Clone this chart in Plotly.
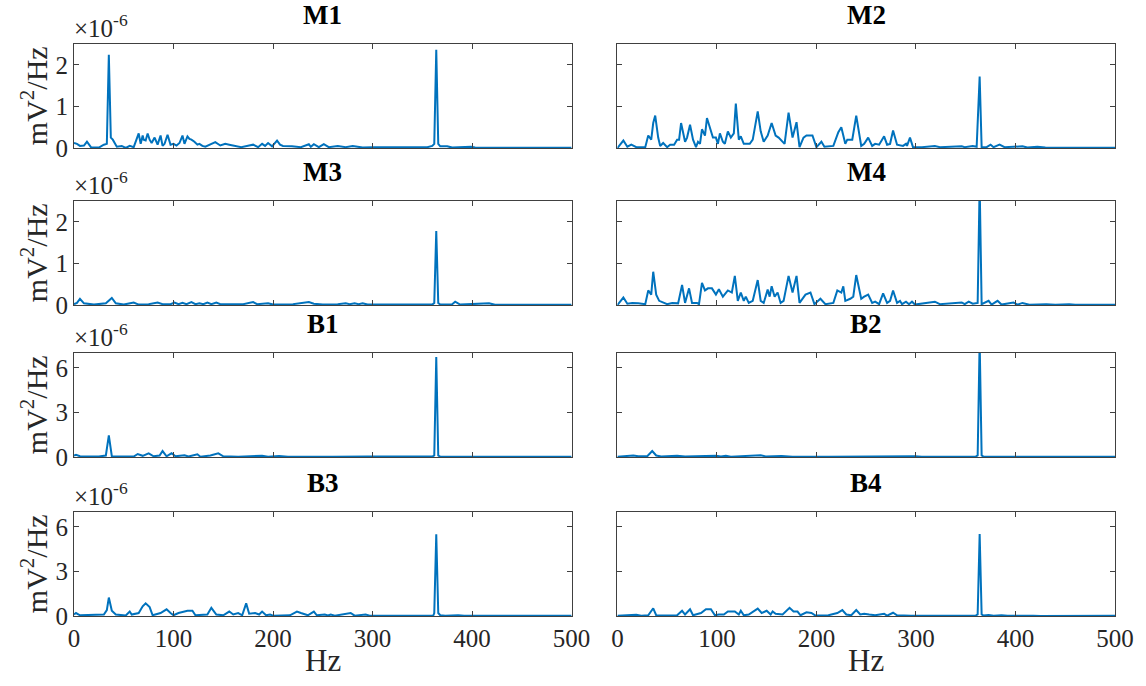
import plotly.graph_objects as go

# values in units of 1e-6 mV^2/Hz
panel_titles = ["M1", "M2", "M3", "M4", "B1", "B2", "B3", "B4"]
x_ticks = [0, 100, 200, 300, 400, 500]
m_yticks = [0, 1, 2]
b_yticks = [0, 3, 6]

m1_hz = [0, 3, 6, 10, 13, 17, 25, 30, 33, 35, 37, 39, 43, 48, 52, 56, 60, 65, 67, 69, 70, 72, 74, 76, 78, 81, 84, 87, 89, 91, 94, 97, 100, 103, 106, 109, 111, 114, 116, 118, 121, 124, 126, 129, 132, 137, 142, 147, 152, 156, 161, 168, 176, 180, 185, 189, 192, 195, 199, 204, 207, 210, 219, 228, 236, 238, 241, 246, 251, 256, 265, 273, 280, 290, 300, 320, 340, 355, 360, 362, 364, 366, 368, 375, 380, 399, 403, 420, 450, 500]
m1_val = [0.12, 0.1, 0.05, 0.06, 0.15, 0.02, 0.01, 0.08, 0.1, 2.24, 0.25, 0.2, 0.03, 0.05, 0.0, 0.05, 0.02, 0.35, 0.1, 0.3, 0.2, 0.18, 0.35, 0.2, 0.12, 0.25, 0.08, 0.3, 0.05, 0.1, 0.32, 0.08, 0.1, 0.06, 0.12, 0.3, 0.1, 0.28, 0.22, 0.2, 0.15, 0.08, 0.1, 0.05, 0.03, 0.08, 0.14, 0.06, 0.1, 0.08, 0.05, 0.02, 0.06, 0.08, 0.02, 0.1, 0.05, 0.12, 0.04, 0.18, 0.08, 0.05, 0.04, 0.02, 0.09, 0.03, 0.09, 0.02, 0.09, 0.02, 0.05, 0.02, 0.05, 0.01, 0.02, 0.02, 0.01, 0.02, 0.05, 0.1, 2.36, 0.1, 0.04, 0.04, 0.01, 0.03, 0.01, 0.01, 0.005, 0.005]

m2_hz = [0, 6, 10, 14, 19, 28, 31, 34, 36, 38, 41, 43, 46, 50, 53, 57, 60, 62, 64, 68, 70, 73, 76, 79, 81, 83, 85, 88, 90, 93, 96, 99, 101, 103, 106, 108, 111, 114, 117, 119, 122, 124, 127, 133, 136, 141, 144, 147, 151, 155, 159, 162, 168, 172, 176, 180, 183, 187, 190, 196, 200, 205, 208, 217, 222, 225, 229, 231, 233, 236, 240, 245, 248, 252, 256, 259, 263, 268, 271, 274, 277, 281, 287, 290, 291, 294, 297, 306, 319, 324, 346, 349, 357, 361, 364, 366, 371, 375, 378, 384, 389, 398, 407, 412, 422, 430, 500]
m2_val = [0.0, 0.18, 0.03, 0.08, 0.02, 0.02, 0.3, 0.2, 0.6, 0.78, 0.25, 0.05, 0.12, 0.02, 0.08, 0.08, 0.2, 0.2, 0.6, 0.15, 0.25, 0.56, 0.2, 0.02, 0.15, 0.1, 0.45, 0.3, 0.72, 0.5, 0.25, 0.25, 0.1, 0.35, 0.15, 0.1, 0.4, 0.25, 0.35, 1.07, 0.2, 0.28, 0.1, 0.1, 0.2, 0.88, 0.4, 0.15, 0.3, 0.6, 0.3, 0.25, 0.1, 0.85, 0.25, 0.62, 0.02, 0.25, 0.3, 0.3, 0.02, 0.15, 0.03, 0.05, 0.38, 0.5, 0.1, 0.2, 0.2, 0.2, 0.78, 0.05, 0.1, 0.25, 0.05, 0.1, 0.08, 0.28, 0.08, 0.1, 0.42, 0.08, 0.05, 0.1, 0.05, 0.25, 0.02, 0.02, 0.05, 0.02, 0.04, 0.02, 0.05, 0.03, 1.72, 0.02, 0.02, 0.08, 0.02, 0.08, 0.02, 0.03, 0.04, 0.01, 0.03, 0.01, 0.005]

m3_hz = [0, 3, 6, 10, 20, 32, 38, 42, 50, 60, 65, 75, 84, 89, 97, 101, 105, 109, 113, 118, 122, 126, 130, 134, 138, 143, 147, 160, 170, 180, 184, 195, 200, 220, 236, 241, 250, 265, 273, 277, 282, 286, 290, 295, 330, 360, 362, 364, 366, 368, 380, 383, 388, 417, 423, 500]
m3_val = [0.02, 0.05, 0.15, 0.04, 0.01, 0.04, 0.17, 0.04, 0.01, 0.06, 0.01, 0.02, 0.06, 0.02, 0.02, 0.06, 0.02, 0.05, 0.02, 0.07, 0.02, 0.04, 0.02, 0.06, 0.02, 0.06, 0.02, 0.01, 0.02, 0.07, 0.02, 0.04, 0.01, 0.02, 0.07, 0.03, 0.01, 0.02, 0.04, 0.02, 0.04, 0.02, 0.04, 0.01, 0.01, 0.01, 0.05, 1.78, 0.05, 0.01, 0.02, 0.08, 0.01, 0.04, 0.005, 0.005]

m4_hz = [0, 6, 10, 15, 21, 28, 31, 34, 36, 39, 42, 46, 50, 55, 61, 65, 68, 72, 75, 80, 82, 85, 88, 91, 95, 99, 102, 106, 111, 115, 118, 121, 124, 127, 129, 132, 136, 141, 144, 147, 151, 153, 155, 158, 161, 164, 167, 172, 176, 180, 183, 189, 194, 198, 204, 209, 217, 221, 225, 227, 229, 234, 237, 240, 245, 248, 252, 256, 259, 263, 267, 271, 274, 277, 281, 284, 286, 290, 293, 296, 299, 319, 324, 346, 349, 353, 357, 362, 364, 366, 373, 376, 382, 386, 398, 402, 407, 414, 431, 440, 454, 460, 500]
m4_val = [0.0, 0.18, 0.03, 0.05, 0.04, 0.02, 0.35, 0.25, 0.8, 0.25, 0.1, 0.06, 0.02, 0.05, 0.04, 0.48, 0.05, 0.4, 0.05, 0.05, 0.02, 0.53, 0.35, 0.4, 0.4, 0.25, 0.38, 0.2, 0.35, 0.3, 0.7, 0.1, 0.3, 0.1, 0.2, 0.05, 0.1, 0.6, 0.1, 0.05, 0.37, 0.2, 0.45, 0.2, 0.3, 0.05, 0.1, 0.7, 0.3, 0.7, 0.05, 0.25, 0.3, 0.02, 0.15, 0.02, 0.05, 0.35, 0.3, 0.45, 0.1, 0.15, 0.2, 0.72, 0.15, 0.2, 0.25, 0.05, 0.08, 0.02, 0.28, 0.05, 0.1, 0.35, 0.05, 0.1, 0.02, 0.08, 0.02, 0.08, 0.01, 0.08, 0.02, 0.06, 0.02, 0.08, 0.03, 0.05, 2.9, 0.02, 0.1, 0.01, 0.1, 0.01, 0.06, 0.01, 0.05, 0.005, 0.02, 0.005, 0.02, 0.005, 0.005]

b1_hz = [0, 2, 6, 15, 25, 32, 35, 38, 50, 60, 64, 69, 75, 80, 86, 89, 93, 98, 102, 111, 115, 124, 127, 137, 145, 150, 165, 189, 195, 206, 215, 252, 260, 295, 330, 360, 362, 364, 366, 368, 400, 500]
b1_val = [0.1, 0.15, 0.05, 0.05, 0.03, 0.1, 1.45, 0.05, 0.05, 0.03, 0.2, 0.08, 0.25, 0.05, 0.1, 0.4, 0.05, 0.25, 0.05, 0.12, 0.03, 0.18, 0.02, 0.1, 0.25, 0.05, 0.02, 0.08, 0.02, 0.06, 0.02, 0.05, 0.02, 0.03, 0.02, 0.03, 0.1, 6.73, 0.1, 0.02, 0.01, 0.01]

b2_hz = [0, 16, 21, 30, 35, 39, 44, 60, 68, 82, 99, 104, 109, 114, 144, 149, 165, 176, 201, 212, 299, 306, 360, 362, 364, 366, 368, 400, 500]
b2_val = [0.02, 0.1, 0.05, 0.05, 0.4, 0.1, 0.03, 0.08, 0.03, 0.05, 0.08, 0.03, 0.08, 0.02, 0.12, 0.04, 0.06, 0.02, 0.05, 0.02, 0.05, 0.02, 0.03, 0.1, 7.8, 0.1, 0.02, 0.01, 0.01]

b3_hz = [0, 2, 6, 30, 33, 35, 38, 42, 52, 56, 58, 65, 69, 72, 76, 79, 87, 93, 97, 100, 105, 110, 114, 119, 122, 134, 138, 143, 150, 156, 160, 165, 169, 173, 176, 182, 186, 189, 193, 197, 200, 217, 224, 228, 231, 235, 241, 244, 252, 255, 258, 262, 278, 282, 293, 297, 333, 361, 362, 364, 366, 368, 373, 386, 392, 500]
b3_val = [0.1, 0.2, 0.05, 0.1, 0.4, 1.24, 0.35, 0.1, 0.03, 0.3, 0.1, 0.2, 0.65, 0.85, 0.6, 0.05, 0.2, 0.45, 0.2, 0.05, 0.2, 0.3, 0.35, 0.35, 0.05, 0.1, 0.55, 0.1, 0.05, 0.3, 0.1, 0.2, 0.05, 0.85, 0.15, 0.2, 0.1, 0.3, 0.05, 0.1, 0.02, 0.05, 0.3, 0.2, 0.15, 0.05, 0.3, 0.05, 0.1, 0.03, 0.1, 0.02, 0.2, 0.02, 0.1, 0.02, 0.02, 0.03, 0.2, 5.5, 0.2, 0.05, 0.02, 0.05, 0.01, 0.01]

b4_hz = [0, 19, 24, 31, 36, 39, 53, 60, 65, 68, 73, 76, 84, 89, 94, 98, 102, 107, 111, 118, 122, 124, 127, 132, 141, 145, 150, 154, 156, 159, 166, 173, 177, 181, 184, 190, 195, 199, 212, 221, 226, 230, 235, 240, 244, 248, 253, 259, 268, 271, 277, 281, 295, 320, 360, 362, 364, 366, 368, 373, 378, 386, 392, 418, 425, 500]
b4_val = [0.02, 0.08, 0.02, 0.05, 0.52, 0.05, 0.03, 0.05, 0.35, 0.1, 0.45, 0.05, 0.2, 0.45, 0.45, 0.05, 0.1, 0.1, 0.3, 0.3, 0.1, 0.35, 0.05, 0.1, 0.5, 0.2, 0.35, 0.1, 0.3, 0.15, 0.1, 0.55, 0.3, 0.3, 0.05, 0.25, 0.2, 0.03, 0.05, 0.2, 0.4, 0.1, 0.05, 0.4, 0.1, 0.15, 0.1, 0.05, 0.15, 0.02, 0.22, 0.05, 0.02, 0.02, 0.03, 0.1, 5.52, 0.1, 0.03, 0.06, 0.01, 0.05, 0.01, 0.02, 0.005, 0.01]

series = [(m1_hz, m1_val), (m2_hz, m2_val), (m3_hz, m3_val), (m4_hz, m4_val),
          (b1_hz, b1_val), (b2_hz, b2_val), (b3_hz, b3_val), (b4_hz, b4_val)]

W, H = 1146, 686
ML, MR, MT, MB = 74, 26, 44, 70
pw, ph = W - ML - MR, H - MT - MB
x_doms = [[0.0, (574 - ML) / pw], [(620 - ML) / pw, 1.0]]
row_px = [(44, 148), (201, 305), (353, 457), (512, 616)]
y_doms = [[(H - MB - b) / ph, (H - MB - t) / ph] for (t, b) in row_px]

FONT = "Liberation Serif, Times New Roman, serif"
TXT = "#262626"
AX = "#404040"
TICK_SIZE = 25

fig = go.Figure()
layout = dict(width=W, height=H, margin=dict(l=ML, r=MR, t=MT, b=MB),
              paper_bgcolor="white", plot_bgcolor="white", showlegend=False,
              font=dict(family=FONT, color=TXT, size=TICK_SIZE))
annotations = []
for i, (hz, val) in enumerate(series):
    r, c = divmod(i, 2)
    n = i + 1
    xa = "x" if n == 1 else f"x{n}"
    ya = "y" if n == 1 else f"y{n}"
    fig.add_trace(go.Scatter(x=hz, y=val, mode="lines", xaxis=xa, yaxis=ya,
                             line=dict(color="#0072BD", width=2), hoverinfo="skip"))
    is_m = r < 2
    layout["xaxis" if n == 1 else f"xaxis{n}"] = dict(
        domain=x_doms[c], anchor=ya, range=[0, 500], tickvals=x_ticks,
        ticks="inside", ticklen=5, tickwidth=1, tickcolor=AX,
        showline=True, linecolor=AX, linewidth=1, mirror="ticks",
        showgrid=False, zeroline=False, showticklabels=(r == 3),
        tickfont=dict(family=FONT, size=TICK_SIZE, color=TXT))
    layout["yaxis" if n == 1 else f"yaxis{n}"] = dict(
        domain=y_doms[r], anchor=xa, range=[0, 2.5] if is_m else [0, 7],
        tickvals=m_yticks if is_m else b_yticks,
        ticks="inside", ticklen=5, tickwidth=1, tickcolor=AX,
        showline=True, linecolor=AX, linewidth=1, mirror="ticks",
        showgrid=False, zeroline=False, showticklabels=(c == 0),
        tickfont=dict(family=FONT, size=TICK_SIZE, color=TXT))
    xc = (x_doms[c][0] + x_doms[c][1]) / 2
    annotations.append(dict(text=f"<b>{panel_titles[i]}</b>", xref="paper", yref="paper",
                            x=xc, y=y_doms[r][1], xanchor="center", yanchor="middle",
                            yshift=29, showarrow=False,
                            font=dict(family=FONT, size=27, color="black")))
    if c == 0:
        annotations.append(dict(text="×10<sup>-6</sup>", xref="paper", yref="paper",
                                x=0.0, y=y_doms[r][1], xanchor="left", yanchor="middle",
                                yshift=18, xshift=-2, showarrow=False,
                                font=dict(family=FONT, size=25, color=TXT)))
        annotations.append(dict(text="mV<sup>2</sup>/Hz", xref="paper", yref="paper",
                                x=(34 - ML) / pw, y=(y_doms[r][0] + y_doms[r][1]) / 2,
                                xanchor="center", yanchor="middle", textangle=-90,
                                showarrow=False, font=dict(family=FONT, size=30, color=TXT)))
    if r == 3:
        annotations.append(dict(text="Hz", xref="paper", yref="paper",
                                x=xc, y=(616 - 660) / ph, xanchor="center", yanchor="middle",
                                showarrow=False, font=dict(family=FONT, size=31, color=TXT)))
layout["annotations"] = annotations
fig.update_layout(**layout)
fig.write_html("out.html", config={"displayModeBar": False},
               post_script="document.body.style.margin='0px';document.body.style.padding='0px';")
